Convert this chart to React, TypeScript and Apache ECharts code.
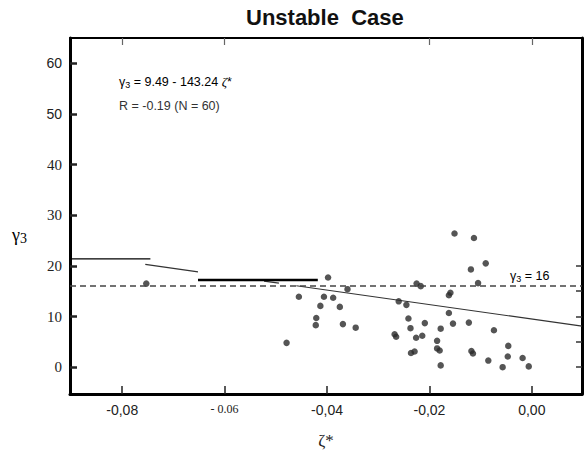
import React, { useEffect, useRef } from "react";
import * as echarts from "echarts";

const chartTitle = "Unstable  Case";
const xTickValues = [-0.08, -0.06, -0.04, -0.02, 0];
const xTickLabels = ["-0,08", "- 0.06", "-0,04", "-0,02", "0,00"];
const yTickValues = [0, 10, 20, 30, 40, 50, 60];
const topTickValues = [-0.08, -0.06, -0.02, 0];
const rightTickValues = [0, 5, 10, 15, 20];

// observed points (zeta*, gamma3)
const zetaValues = [
  -0.0398, -0.036, -0.0225, -0.0217, -0.0455, -0.0406, -0.0388, -0.0413, -0.0375, -0.026,
  -0.0245, -0.0421, -0.0422, -0.0369, -0.0344, -0.0479, -0.0268, -0.0265, -0.0241, -0.0237,
  -0.0209, -0.0226, -0.0214, -0.0236, -0.0229, -0.0159, -0.0162, -0.0162, -0.0178, -0.0154,
  -0.0123, -0.0074, -0.0185, -0.0185, -0.018, -0.0118, -0.0115, -0.0046, -0.0047, -0.0085,
  -0.0018, -0.0178, -0.0057, -0.0006, -0.0151, -0.0113, -0.009, -0.0119, -0.0105, -0.0753,
];
const gammaValues = [
  17.7, 15.4, 16.5, 16.0, 13.9, 13.9, 13.7, 12.1, 11.9, 13.0,
  12.3, 9.7, 8.3, 8.5, 7.8, 4.8, 6.5, 6.0, 9.6, 7.7,
  8.7, 5.8, 6.2, 2.8, 3.1, 14.7, 14.2, 10.7, 7.6, 8.6,
  8.8, 7.3, 5.2, 3.7, 3.3, 3.2, 2.7, 4.2, 2.1, 1.3,
  1.8, 0.35, 0.0, 0.15, 26.4, 25.5, 20.5, 19.3, 16.6, 16.5,
];

const thresholdGamma = 16;

// visible fragments of the fitted line gamma3 = 9.49 - 143.24 zeta*
const fitZetaA = [-0.0755, -0.0652];
const fitGammaA = [20.3, 18.8];
const fitZetaB = [-0.0523, -0.0494];
const fitGammaB = [17.0, 16.6];
const fitZetaC = [-0.046, 0.0098];
const fitGammaC = [16.08, 8.09];

// solid horizontal rules present in the scanned figure
const ruleZetaA = [-0.0902, -0.0745];
const ruleGammaA = [21.4, 21.4];
const ruleZetaB = [-0.0652, -0.0418];
const ruleGammaB = [17.2, 17.2];

const zip = (xs: number[], ys: number[]) => xs.map((x, i) => [x, ys[i]]);

const SANS = "Liberation Sans";
const SERIF = "Liberation Serif";

export default function App() {
  const ref = useRef<HTMLDivElement>(null);

  useEffect(() => {
    if (!ref.current) return;
    const chart = echarts.init(ref.current, undefined, { renderer: "svg" });
    const xMin = -0.0902;
    const xMax = 0.0098;
    const yMin = -5.3;
    const yMax = 65;

    const lineSeries = (data: number[][], width: number, color = "#111") => ({
      type: "line",
      data,
      symbol: "none",
      silent: true,
      lineStyle: { color, width },
      xAxisIndex: 0,
      yAxisIndex: 0,
      z: 3,
    });

    chart.setOption({
      animation: false,
      backgroundColor: "#fff",
      title: {
        text: chartTitle,
        left: 241,
        top: 1,
        textStyle: { fontFamily: SANS, fontWeight: "bold", fontSize: 22, color: "#111" },
      },
      grid: { left: 70, right: 4, top: 38, bottom: 54, show: false },
      xAxis: [
        {
          type: "value",
          min: xMin,
          max: xMax,
          position: "bottom",
          name: "ζ*",
          nameLocation: "middle",
          nameGap: 38,
          nameTextStyle: { fontFamily: SERIF, fontSize: 17, color: "#222" },
          splitLine: { show: false },
          axisLine: { show: true, onZero: false, lineStyle: { color: "#000", width: 3 } },
          axisTick: {
            show: true,
            inside: true,
            length: 8,
            customValues: xTickValues,
            lineStyle: { color: "#222", width: 1.5 },
          },
          axisLabel: {
            customValues: xTickValues,
            margin: 9,
            fontFamily: SANS,
            fontSize: 14,
            color: "#222",
            formatter: (v: number) => {
              const i = xTickValues.findIndex((t) => Math.abs(t - v) < 1e-9);
              if (i < 0) return "";
              return i === 1 ? `{serif|${xTickLabels[i]}}` : xTickLabels[i];
            },
            rich: {
              serif: { fontFamily: SERIF, fontSize: 12, color: "#222" },
            },
          },
        },
        {
          type: "value",
          min: xMin,
          max: xMax,
          position: "top",
          splitLine: { show: false },
          axisLine: { show: true, onZero: false, lineStyle: { color: "#000", width: 2 } },
          axisTick: {
            show: true,
            inside: true,
            length: 7,
            customValues: topTickValues,
            lineStyle: { color: "#666", width: 1.2 },
          },
          axisLabel: { show: false },
        },
      ],
      yAxis: [
        {
          type: "value",
          min: yMin,
          max: yMax,
          position: "left",
          splitLine: { show: false },
          axisLine: { show: true, onZero: false, lineStyle: { color: "#000", width: 3 } },
          axisTick: {
            show: true,
            inside: true,
            length: 7,
            customValues: yTickValues,
            lineStyle: { color: "#222", width: 2.5 },
          },
          axisLabel: {
            customValues: yTickValues,
            margin: 8,
            fontFamily: SERIF,
            fontSize: 15,
            color: "#222",
            formatter: (v: number) => (v >= 50 ? `{sans|${v}}` : `${v}`),
            rich: {
              sans: { fontFamily: SANS, fontSize: 14, color: "#222" },
            },
          },
        },
        {
          type: "value",
          min: yMin,
          max: yMax,
          position: "right",
          splitLine: { show: false },
          axisLine: { show: true, onZero: false, lineStyle: { color: "#000", width: 3 } },
          axisTick: {
            show: true,
            inside: true,
            length: 6,
            customValues: rightTickValues,
            lineStyle: { color: "#333", width: 1.5 },
          },
          axisLabel: { show: false },
        },
      ],
      graphic: [
        {
          type: "text",
          left: 12,
          top: 226,
          style: {
            text: "{g|γ}{s|3}",
            rich: {
              g: { fontFamily: SERIF, fontSize: 18, color: "#222" },
              s: { fontFamily: SERIF, fontSize: 14, color: "#222", padding: [6, 0, 0, 0] },
            },
          },
        },
        {
          type: "text",
          left: 119,
          top: 75,
          style: {
            text: "{t|γ}{s|3}{t| = 9.49 - 143.24 }{i|ζ}{t|*}",
            rich: {
              t: { fontFamily: SANS, fontSize: 12.5, color: "#333" },
              s: { fontFamily: SANS, fontSize: 9, color: "#333", padding: [6, 0, 0, 0] },
              i: { fontFamily: SERIF, fontStyle: "italic", fontSize: 13, color: "#555" },
            },
          },
        },
        {
          type: "text",
          left: 119,
          top: 99,
          style: {
            text: "R = -0.19 (N = 60)",
            fontFamily: SANS,
            fontSize: 12.5,
            fill: "#333",
          },
        },
        {
          type: "text",
          left: 510,
          top: 269,
          style: {
            text: "{t|γ}{s|3}{t| = 16}",
            rich: {
              t: { fontFamily: SANS, fontSize: 12.5, color: "#333" },
              s: { fontFamily: SANS, fontSize: 9, color: "#333", padding: [6, 0, 0, 0] },
            },
          },
        },
      ],
      series: [
        {
          type: "scatter",
          data: zip(zetaValues, gammaValues),
          symbol: "circle",
          symbolSize: 6.5,
          itemStyle: { color: "#2a2a2a" },
          xAxisIndex: 0,
          yAxisIndex: 0,
          z: 4,
          markLine: {
            silent: true,
            symbol: "none",
            label: { show: false },
            lineStyle: { type: [6, 4], color: "#444", width: 1.6 },
            data: [{ yAxis: thresholdGamma }],
          },
        },
        lineSeries(zip(fitZetaA, fitGammaA), 1.2, "#333"),
        lineSeries(zip(fitZetaB, fitGammaB), 1.2, "#333"),
        lineSeries(zip(fitZetaC, fitGammaC), 1.2, "#333"),
        lineSeries(zip(ruleZetaA, ruleGammaA), 1.3, "#000"),
        lineSeries(zip(ruleZetaB, ruleGammaB), 2.6, "#000"),
      ],
    });
    return () => chart.dispose();
  }, []);

  return <div ref={ref} style={{ width: 586, height: 454, position: "absolute", left: 0, top: 0 }} />;
}
